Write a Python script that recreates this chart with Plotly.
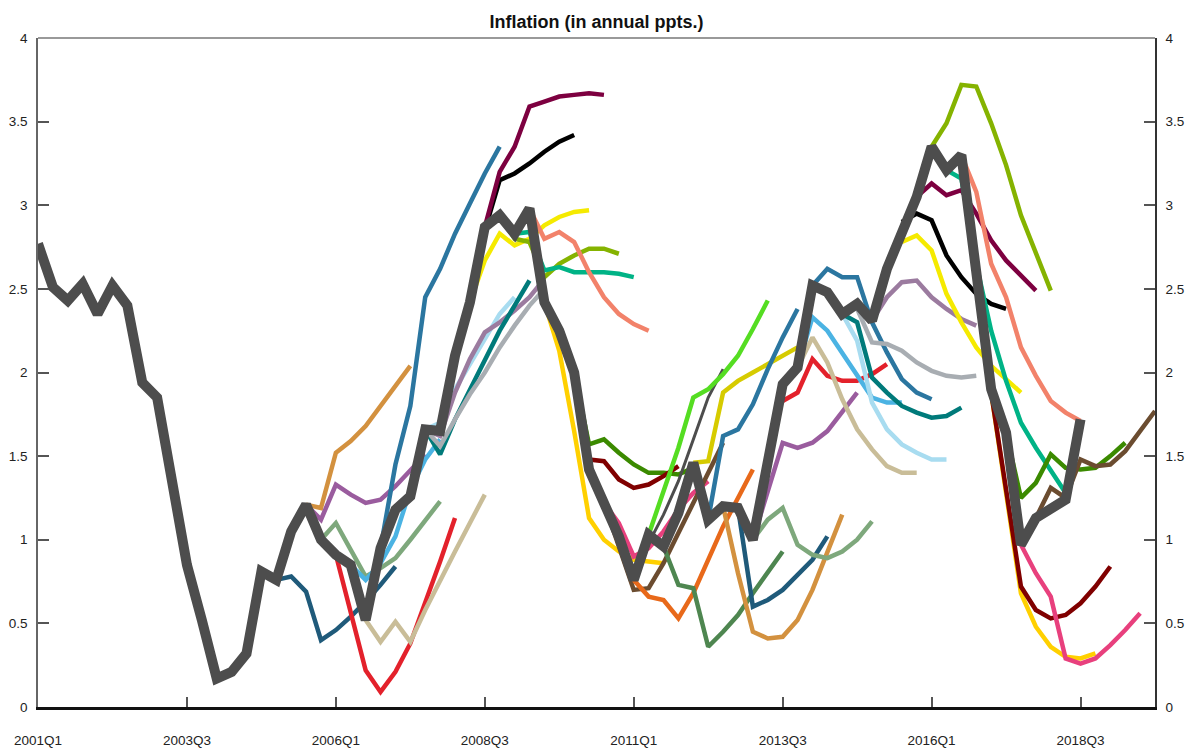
import plotly.graph_objects as go

# quarterly axis 2001Q1 .. 2019Q4
quarters = [f"{y}Q{q}" for y in range(2001, 2020) for q in range(1, 5)]
tick_labels = quarters[0::10]

# realised inflation (thick grey line), 2001Q1 .. 2018Q3
actual = [2.77, 2.51, 2.43, 2.53, 2.35, 2.52, 2.40, 1.94, 1.85, 1.35,
          0.85, 0.52, 0.17, 0.21, 0.32, 0.81, 0.76, 1.05, 1.21, 1.00,
          0.91, 0.85, 0.52, 0.95, 1.18, 1.26, 1.66, 1.65, 2.10, 2.42,
          2.87, 2.94, 2.83, 2.98, 2.42, 2.25, 2.00, 1.42, 1.22, 1.02,
          0.76, 1.03, 0.96, 1.16, 1.46, 1.12, 1.20, 1.19, 1.00, 1.45,
          1.93, 2.03, 2.52, 2.48, 2.35, 2.41, 2.31, 2.62, 2.85, 3.05,
          3.35, 3.21, 3.30, 2.60, 1.90, 1.64, 0.97, 1.13, 1.19, 1.24,
          1.72]

# forecast vintages: first quarter of each path and its values
forecast_start = [
    "2005Q1", "2005Q3", "2005Q3", "2005Q4", "2006Q1", "2006Q2", "2006Q3",
    "2006Q4", "2007Q3", "2007Q3", "2007Q3", "2007Q3", "2008Q1", "2008Q2",
    "2008Q3", "2008Q4", "2009Q1", "2009Q2", "2009Q3", "2010Q1", "2010Q2",
    "2010Q3", "2010Q3", "2011Q1", "2011Q1", "2011Q2", "2011Q3", "2012Q1",
    "2012Q2", "2012Q3", "2012Q4", "2013Q1", "2013Q1", "2013Q3", "2013Q4",
    "2013Q4", "2014Q1", "2014Q3", "2014Q3", "2014Q4", "2015Q1", "2015Q3",
    "2015Q3", "2015Q4", "2016Q1", "2016Q2", "2016Q3", "2017Q1", "2017Q1",
    "2017Q2", "2017Q3", "2017Q4",
]
forecast_values = [
    [0.76, 0.78, 0.69, 0.40, 0.46, 0.54, 0.63, 0.73, 0.84],
    [1.21, 1.19, 1.52, 1.59, 1.68, 1.80, 1.93, 2.04],
    [1.21, 1.12, 1.33, 1.27, 1.22, 1.24, 1.32, 1.42, 1.51],
    [1.00, 1.10, 0.94, 0.78, 0.83, 0.89, 1.00, 1.12, 1.23],
    [0.91, 0.56, 0.22, 0.09, 0.21, 0.38, 0.62, 0.87, 1.13],
    [0.85, 0.76, 0.86, 1.02, 1.30, 1.48, 1.60],
    [0.52, 0.39, 0.51, 0.39, 0.58, 0.76, 0.93, 1.10, 1.27],
    [0.95, 1.45, 1.80, 2.45, 2.62, 2.83, 3.01, 3.19, 3.35],
    [1.66, 1.70, 1.90, 2.05, 2.20, 2.35, 2.45],
    [1.66, 1.62, 1.88, 2.08, 2.24, 2.30, 2.37, 2.45, 2.56],
    [1.66, 1.51, 1.72, 1.90, 2.08, 2.25, 2.40, 2.55],
    [1.66, 1.56, 1.72, 1.87, 2.00, 2.15, 2.28, 2.40, 2.50],
    [2.10, 2.42, 2.85, 3.15, 3.19, 3.25, 3.32, 3.38, 3.42],
    [2.42, 2.67, 2.83, 2.76, 2.80, 2.88, 2.93, 2.96, 2.97],
    [2.87, 3.20, 3.35, 3.59, 3.62, 3.65, 3.66, 3.67, 3.66],
    [2.94, 2.80, 2.78, 2.57, 2.65, 2.70, 2.74, 2.74, 2.71],
    [2.83, 2.84, 2.61, 2.63, 2.60, 2.60, 2.60, 2.59, 2.57],
    [2.98, 2.80, 2.84, 2.78, 2.60, 2.45, 2.35, 2.29, 2.25],
    [2.42, 2.13, 1.65, 1.13, 1.00, 0.93, 0.88, 0.87, 0.86],
    [2.00, 1.57, 1.60, 1.52, 1.45, 1.40, 1.40, 1.39, 1.43],
    [1.48, 1.47, 1.36, 1.31, 1.33, 1.38, 1.44],
    [1.22, 1.10, 0.90, 0.95, 1.05, 1.18, 1.28, 1.35],
    [1.22, 0.95, 0.70, 0.71, 0.86, 1.04, 1.22, 1.40, 1.58],
    [0.76, 0.98, 1.15, 1.35, 1.60, 1.85, 2.02],
    [0.76, 0.66, 0.64, 0.53, 0.68, 0.88, 1.08, 1.25, 1.42],
    [1.03, 1.28, 1.55, 1.85, 1.90, 1.99, 2.10, 2.26, 2.43],
    [0.96, 0.73, 0.71, 0.36, 0.45, 0.55, 0.68, 0.80, 0.93],
    [1.46, 1.47, 1.88, 1.95, 2.00, 2.05, 2.10, 2.15],
    [1.12, 1.62, 1.66, 1.81, 2.02, 2.21, 2.38],
    [1.20, 0.80, 0.45, 0.41, 0.42, 0.52, 0.70, 0.92, 1.15],
    [1.19, 0.60, 0.64, 0.70, 0.79, 0.88, 1.02],
    [1.00, 1.12, 1.19, 0.97, 0.91, 0.89, 0.93, 1.00, 1.11],
    [1.00, 1.30, 1.58, 1.55, 1.58, 1.65, 1.76, 1.88],
    [1.83, 1.88, 2.08, 1.98, 1.95, 1.95, 1.99, 2.05],
    [2.03, 2.33, 2.25, 2.12, 1.98, 1.85, 1.82, 1.82],
    [2.03, 2.21, 2.06, 1.84, 1.66, 1.54, 1.44, 1.40, 1.40],
    [2.52, 2.62, 2.57, 2.57, 2.30, 2.12, 1.96, 1.88, 1.84],
    [2.35, 2.19, 1.82, 1.66, 1.57, 1.52, 1.48, 1.48],
    [2.35, 2.30, 1.97, 1.88, 1.80, 1.76, 1.73, 1.74, 1.79],
    [2.38, 2.18, 2.17, 2.13, 2.06, 2.01, 1.98, 1.97, 1.98],
    [2.31, 2.45, 2.54, 2.55, 2.45, 2.38, 2.32, 2.28],
    [2.78, 2.82, 2.73, 2.47, 2.30, 2.15, 2.04, 1.96, 1.88],
    [2.90, 2.95, 2.91, 2.70, 2.57, 2.47, 2.41, 2.38],
    [3.05, 3.13, 3.06, 3.09, 2.95, 2.79, 2.67, 2.58, 2.49],
    [3.35, 3.49, 3.72, 3.71, 3.49, 3.24, 2.94, 2.71, 2.49],
    [3.21, 3.16, 2.65, 2.25, 1.95, 1.70, 1.55, 1.42, 1.28],
    [3.30, 3.08, 2.65, 2.45, 2.15, 1.98, 1.83, 1.76, 1.71],
    [1.88, 1.28, 0.68, 0.48, 0.36, 0.30, 0.29, 0.32],
    [1.88, 1.30, 0.72, 0.58, 0.53, 0.55, 0.62, 0.72, 0.84],
    [1.64, 1.25, 1.34, 1.51, 1.43, 1.42, 1.43, 1.50, 1.58],
    [0.97, 0.80, 0.66, 0.29, 0.26, 0.29, 0.37, 0.46, 0.56],
    [1.13, 1.31, 1.25, 1.48, 1.44, 1.45, 1.53, 1.65, 1.77],
]
forecast_colors = [
    "#1f5a7a", "#d3913f", "#9a5c9e", "#7ea87c", "#e3212b", "#4bb3e3", "#c9bd98",
    "#2b76a0", "#a8dcf0", "#9b7b9f", "#007a7a", "#a8adb2", "#000000", "#f5ea00",
    "#7d0040", "#85b300", "#00b386", "#f2826a", "#ffd000", "#3b8a00", "#800000",
    "#e8407d", "#6b4c30", "#4d4d4d", "#e8691a", "#55dd22", "#4e8650", "#d6cb00",
    "#2b76a0", "#d3913f", "#1f5a7a", "#7ea87c", "#9a5c9e", "#e3212b", "#4bb3e3",
    "#c9bd98", "#2b76a0", "#a8dcf0", "#007a7a", "#a8adb2", "#9b7b9f", "#f5ea00",
    "#000000", "#7d0040", "#85b300", "#00b386", "#f2826a", "#ffd000", "#800000",
    "#3b8a00", "#e8407d", "#6b4c30",
]

FONT = "Liberation Sans, Arial, sans-serif"
Y_TICKS = [0, 0.5, 1, 1.5, 2, 2.5, 3, 3.5, 4]

# the page body adds an 8px margin, so the figure is drawn 8px smaller
W, H = 1186, 743

fig = go.Figure()

for start, vals, col in zip(forecast_start, forecast_values, forecast_colors):
    i0 = quarters.index(start)
    width = 3 if col == "#4d4d4d" else 4.5
    fig.add_trace(go.Scatter(x=quarters[i0:i0 + len(vals)], y=vals, mode="lines",
                             line=dict(color=col, width=width), showlegend=False,
                             hoverinfo="skip"))

fig.add_trace(go.Scatter(x=quarters[:len(actual)], y=actual, mode="lines",
                         line=dict(color="#4d4d4d", width=10), showlegend=False))

# dummy trace so the right-hand axis is drawn
fig.add_trace(go.Scatter(x=[quarters[0]], y=[0], yaxis="y2", mode="markers",
                         marker=dict(opacity=0), showlegend=False, hoverinfo="skip"))

fig.update_layout(
    width=W, height=H,
    margin=dict(l=30, r=39, t=30, b=44),
    paper_bgcolor="white", plot_bgcolor="white",
    font=dict(family=FONT, size=13.5, color="#222"),
    title=dict(text="<b>Inflation (in annual ppts.)</b>", x=(596.5 - 8) / W,
               xanchor="center", y=1 - 14 / H, yanchor="middle",
               font=dict(size=18, color="#111")),
    xaxis=dict(type="category", categoryorder="array", categoryarray=quarters,
               range=[0, 75], tickvals=tick_labels, ticktext=tick_labels,
               ticks="inside", ticklen=10, tickwidth=1.5, tickcolor="#555",
               showline=True, linecolor="#111", linewidth=3, showgrid=False,
               zeroline=False, ticklabelstandoff=19, automargin=False),
    yaxis=dict(range=[0, 4], tickvals=Y_TICKS,
               ticks="inside", ticklen=11, tickwidth=1.5, tickcolor="#555",
               showline=True, linecolor="#666", linewidth=1.5, showgrid=False,
               zeroline=False, ticklabelstandoff=6, automargin=False),
    yaxis2=dict(range=[0, 4], overlaying="y", side="right", tickvals=Y_TICKS,
                ticks="inside", ticklen=11, tickwidth=1.5, tickcolor="#555",
                showline=True, linecolor="#333", linewidth=1.5, showgrid=False,
                zeroline=False, ticklabelstandoff=6, automargin=False),
    shapes=[dict(type="line", xref="paper", yref="paper", x0=0, x1=1, y0=1, y1=1,
                 line=dict(color="#777", width=1.5))],
)

fig.write_html("out.html")
